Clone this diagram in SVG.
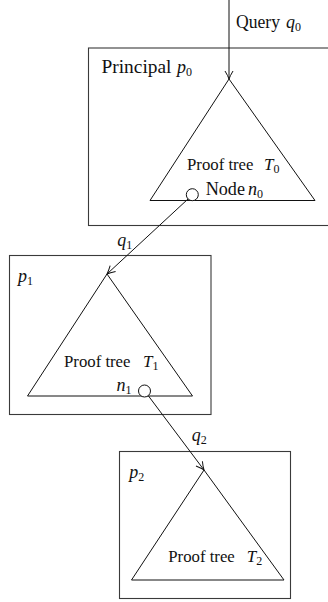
<svg xmlns="http://www.w3.org/2000/svg" width="328" height="602" viewBox="0 0 328 602" font-family="'Liberation Serif', 'Times New Roman', serif">
<style>
.box{fill:none;stroke:#3a3a3a;stroke-width:1.1}
.tri{fill:none;stroke:#111;stroke-width:1}
.edge{fill:none;stroke:#111;stroke-width:1}
text{font-family:'Liberation Serif','Times New Roman',serif;fill:#111}
.cm{font-size:18px}
.tm{font-size:17px}
.it{font-style:italic}
.sub{font-size:12px}
.nd{fill:#fff;stroke:#111;stroke-width:1}
</style>
<defs>
<marker id="arr" viewBox="-10 -5 11 10" refX="0" refY="0" markerWidth="11" markerHeight="10" markerUnits="userSpaceOnUse" orient="auto">
<path d="M-8,-4 Q-3,-1 0,0 Q-3,1 -8,4" fill="none" stroke="#111" stroke-width="1"/>
</marker>
</defs>
<g id="p0">
<rect class="box" x="88.5" y="48" width="245" height="177.5"/>
<text class="cm" x="101.5" y="72.5" textLength="70" lengthAdjust="spacingAndGlyphs">Principal</text>
<text class="cm it" x="177" y="72.5">p<tspan class="sub" font-style="normal" dy="3">0</tspan></text>
<polygon class="tri" points="229,79 315,200.5 150,200.5"/>
<text class="tm" x="187" y="170" textLength="66.5" lengthAdjust="spacingAndGlyphs">Proof tree</text>
<text class="tm it" x="264" y="170">T<tspan class="sub" font-style="normal" dy="3">0</tspan></text>
<text class="cm" x="205.7" y="195" textLength="39.3" lengthAdjust="spacingAndGlyphs">Node</text>
<text class="cm it" x="248" y="195">n<tspan class="sub" font-style="normal" dy="3">0</tspan></text>
</g>
<g id="p1">
<rect class="box" x="9.5" y="255.5" width="201.5" height="159"/>
<text class="cm it" x="18" y="281.5">p<tspan class="sub" font-style="normal" dy="3">1</tspan></text>
<polygon class="tri" points="107,274 192.5,396 27.5,396"/>
<text class="tm" x="64" y="366.7" textLength="66.5" lengthAdjust="spacingAndGlyphs">Proof tree</text>
<text class="tm it" x="143" y="366.7">T<tspan class="sub" font-style="normal" dy="3">1</tspan></text>
<text class="cm it" x="116.5" y="391">n<tspan class="sub" font-style="normal" dy="3">1</tspan></text>
</g>
<g id="p2">
<rect class="box" x="119.5" y="451.5" width="171" height="147"/>
<text class="cm it" x="129.3" y="478">p<tspan class="sub" font-style="normal" dy="3">2</tspan></text>
<polygon class="tri" points="204,470 284,580 131.5,580"/>
<text class="tm" x="168.3" y="561.7" textLength="66.5" lengthAdjust="spacingAndGlyphs">Proof tree</text>
<text class="tm it" x="246.7" y="561.7">T<tspan class="sub" font-style="normal" dy="3">2</tspan></text>
</g>
<g id="connectors">
<line class="edge" x1="229" y1="0" x2="229" y2="79" marker-end="url(#arr)"/>
<text class="cm" x="236" y="27.5" textLength="44" lengthAdjust="spacingAndGlyphs">Query</text>
<text class="cm it" x="286" y="27.5">q<tspan class="sub" font-style="normal" dy="3">0</tspan></text>
<line class="edge" x1="188" y1="199" x2="107" y2="274" marker-end="url(#arr)"/>
<text class="cm it" x="117.3" y="246">q<tspan class="sub" font-style="normal" dy="3">1</tspan></text>
<line class="edge" x1="148.5" y1="396" x2="204" y2="470" marker-end="url(#arr)"/>
<text class="cm it" x="191.7" y="440.5">q<tspan class="sub" font-style="normal" dy="3">2</tspan></text>
</g>
<g id="n0"><circle class="nd" cx="192.3" cy="194.7" r="6"/></g>
<g id="n1"><circle class="nd" cx="144.5" cy="391" r="6"/></g>
</svg>
